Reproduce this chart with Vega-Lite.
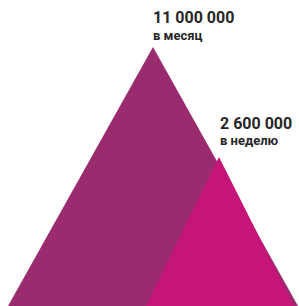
{
  "$schema": "https://vega.github.io/schema/vega-lite/v6.json",
  "width": 299,
  "height": 306,
  "autosize": {"type": "fit", "contains": "padding"},
  "padding": 0,
  "background": "white",
  "config": {"view": {"stroke": null}},
  "datasets": {
    "tri": [
      {"audience": "month", "x": 8, "y": 0},
      {"audience": "month", "x": 153, "y": 259},
      {"audience": "month", "x": 298, "y": 0},
      {"audience": "week", "x": 146, "y": 0},
      {"audience": "week", "x": 219, "y": 149},
      {"audience": "week", "x": 294, "y": 0}
    ],
    "labels": [
      {"audience": "month", "x": 153, "vy": 283, "py": 266.5, "value": "11 000 000", "period": "в месяц"},
      {"audience": "week", "x": 220, "vy": 177.5, "py": 161.5, "value": "2 600 000", "period": "в неделю"}
    ]
  },
  "layer": [
    {
      "data": {"name": "tri"},
      "transform": [{"filter": "datum.audience === 'month'"}],
      "mark": {"type": "area", "color": "#9b2b6f", "interpolate": "linear"},
      "encoding": {
        "x": {"field": "x", "type": "quantitative", "scale": {"domain": [0, 299], "nice": false, "zero": false}, "axis": null},
        "y": {"field": "y", "type": "quantitative", "stack": null, "scale": {"domain": [0, 306], "nice": false, "zero": false}, "axis": null}
      }
    },
    {
      "data": {"name": "tri"},
      "transform": [{"filter": "datum.audience === 'week'"}],
      "mark": {"type": "area", "color": "#c51579", "interpolate": "linear"},
      "encoding": {
        "x": {"field": "x", "type": "quantitative", "scale": {"domain": [0, 299], "nice": false, "zero": false}, "axis": null},
        "y": {"field": "y", "type": "quantitative", "stack": null, "scale": {"domain": [0, 306], "nice": false, "zero": false}, "axis": null}
      }
    },
    {
      "data": {"name": "labels"},
      "mark": {"type": "text", "align": "left", "baseline": "alphabetic", "font": "Roboto", "fontWeight": "bold", "fontSize": 16, "color": "#262626"},
      "encoding": {
        "x": {"field": "x", "type": "quantitative"},
        "y": {"field": "vy", "type": "quantitative"},
        "text": {"field": "value"}
      }
    },
    {
      "data": {"name": "labels"},
      "mark": {"type": "text", "align": "left", "baseline": "alphabetic", "font": "Roboto", "fontWeight": "bold", "fontSize": 13, "color": "#262626"},
      "encoding": {
        "x": {"field": "x", "type": "quantitative"},
        "y": {"field": "py", "type": "quantitative"},
        "text": {"field": "period"}
      }
    }
  ]
}
